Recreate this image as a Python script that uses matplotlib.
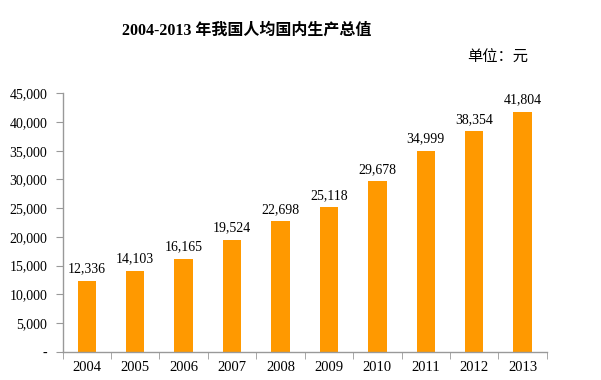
import numpy as np
import matplotlib.pyplot as plt
from matplotlib.ticker import FuncFormatter

plt.rcParams['font.family'] = ['Liberation Serif', 'Noto Sans CJK SC']

# data
years = ['2004', '2005', '2006', '2007', '2008', '2009', '2010', '2011', '2012', '2013']
gdp_per_capita = [12336, 14103, 16165, 19524, 22698, 25118, 29678, 34999, 38354, 41804]
y_ticks = [0, 5000, 10000, 15000, 20000, 25000, 30000, 35000, 40000, 45000]

fig = plt.figure(figsize=(6.01, 3.8), dpi=100)
ax = fig.add_axes([0.104, 0.0745, 0.806, 0.68])

x = np.arange(len(years))
ax.bar(x, gdp_per_capita, width=0.38, color='#FF9900', edgecolor='none')

for xi, v in zip(x, gdp_per_capita):
    ax.annotate(f'{v:,}', (xi, v), xytext=(0, 4), textcoords='offset points',
                ha='center', va='bottom', fontsize=10)

ax.set_xlim(-0.5, len(years) - 0.5)
ax.set_ylim(0, 45000)
ax.set_yticks(y_ticks)
ax.yaxis.set_major_formatter(FuncFormatter(lambda v, p: '-' if v == 0 else f'{int(v):,}'))

# year labels centered, tick marks between categories
ax.set_xticks(x)
ax.set_xticklabels(years)
ax.set_xticks(np.arange(-0.5, len(years)), minor=True)
ax.tick_params(axis='x', which='major', length=0, labelsize=10.5, pad=7)
ax.tick_params(axis='x', which='minor', length=5, color='#999999', direction='out')
ax.tick_params(axis='y', length=5, color='#999999', labelsize=10, pad=6)

for s in ['top', 'right']:
    ax.spines[s].set_visible(False)
for s in ['left', 'bottom']:
    ax.spines[s].set_color('#999999')
    ax.spines[s].set_linewidth(1)

fig.text(0.41, 0.92, '2004-2013 年我国人均国内生产总值', ha='center', va='center',
         fontsize=11.5, fontweight='bold')
fig.text(0.777, 0.848, '单位：元', ha='left', va='center', fontsize=11)

plt.savefig('out.png', dpi=100)
